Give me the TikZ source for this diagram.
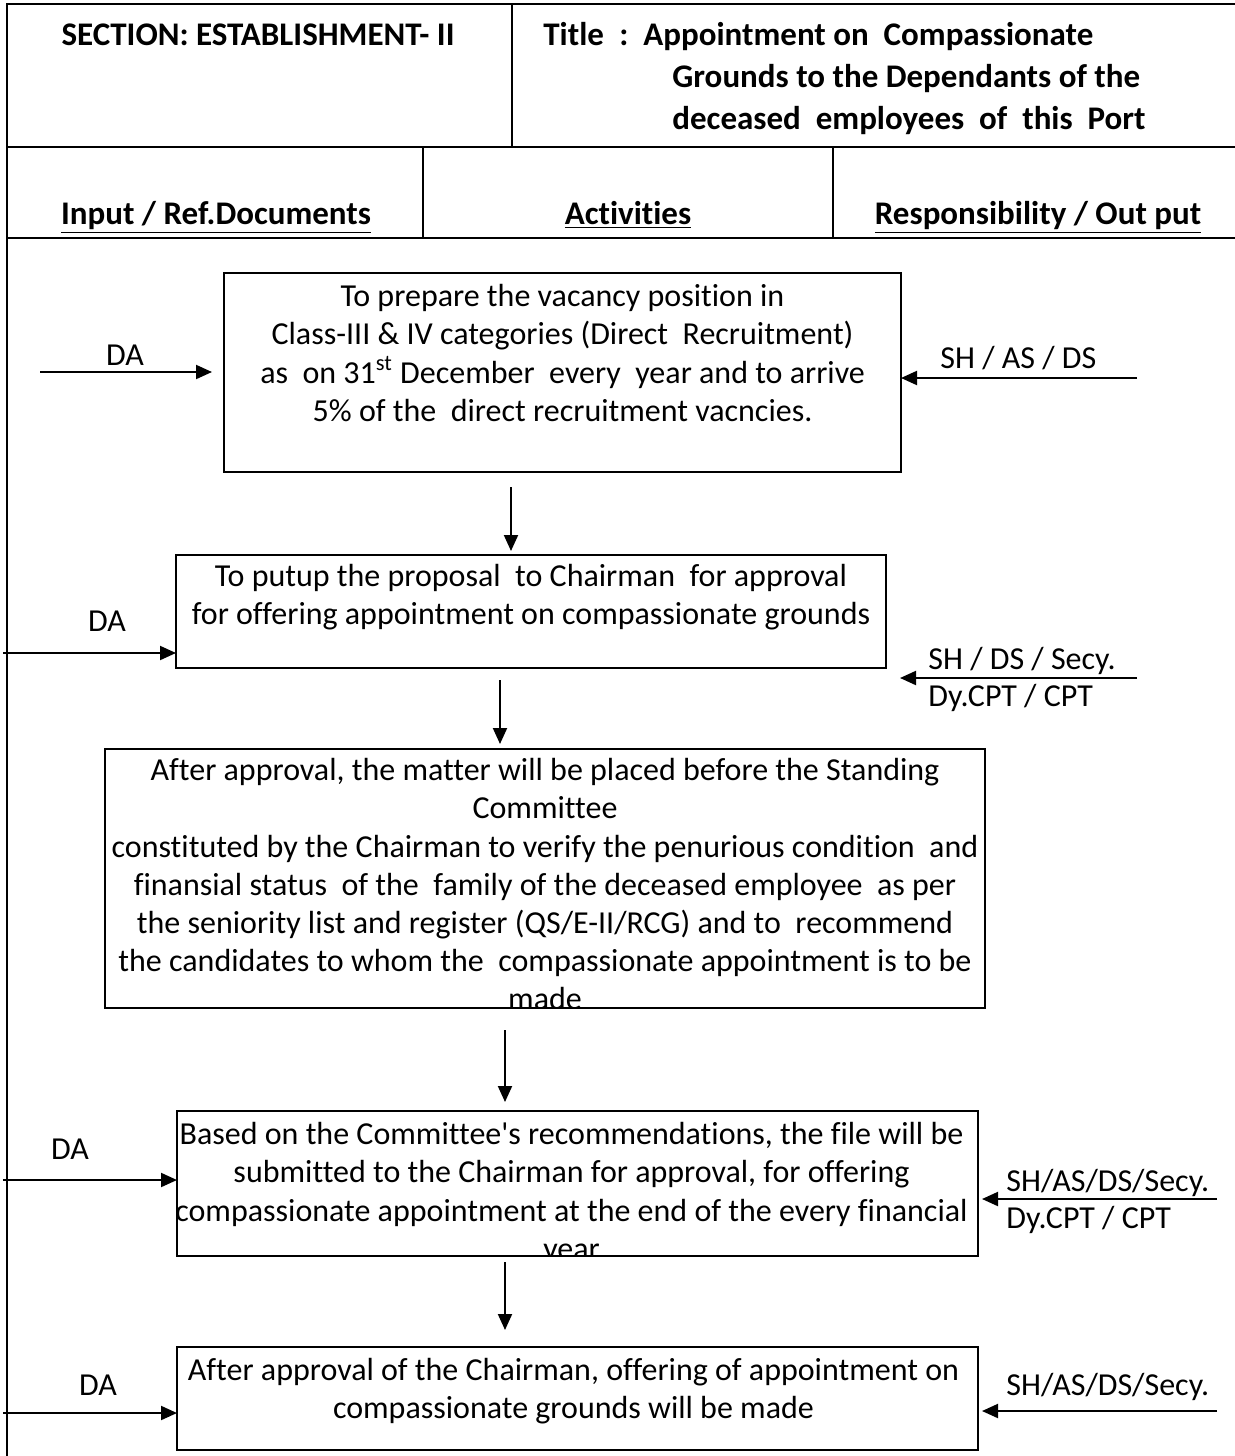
\documentclass[tikz,border=0pt]{standalone}
\usepackage{fontspec}
\setmainfont{Carlito}[Ligatures={NoCommon}]
\usetikzlibrary{arrows.meta,positioning}

\tikzset{
  frame/.style={line width=1.1pt},
  actbox/.style={draw, line width=0.8pt, inner sep=0pt, outer sep=0pt},
  acttext/.style={align=center, inner sep=0pt, anchor=north, font=\fontsize{16}{19.1}\selectfont},
  lbl/.style={inner sep=0pt, font=\fontsize{16}{19}\selectfont},
  hd/.style={inner sep=0pt, font=\bfseries\fontsize{16.5}{20}\selectfont},
  flow/.style={line width=1pt, -{Triangle[length=8pt,width=7pt]}},
}

\begin{document}
\begin{tikzpicture}[x=0.5pt, y=-0.5pt]
\useasboundingbox (0,0) rectangle (1235,1456);

% header frame
\draw[frame] (1235,4) -- (7,4) -- (7,1456);
\draw[frame] (7,147) -- (1235,147);
\draw[frame] (7,238) -- (1235,238);
\draw[frame] (512,4) -- (512,147);
\draw[frame] (423,147) -- (423,238);
\draw[frame] (833,147) -- (833,238);

\node[hd, anchor=base] (sec) at (258,45) {SECTION: ESTABLISHMENT- II};
\node[hd, anchor=base west] (ttl) at (543,45) {Title};
\node[hd, anchor=base west] (colon) at (619,45) {:};
\node[hd, anchor=base west] (t1) at (643,45) {Appointment on~ Compassionate};
\node[hd, anchor=base west] (t2) at (672,87) {Grounds to the Dependants of the};
\node[hd, anchor=base west] (t3) at (672,129) {deceased~ employees~ of~ this~ Port};

\node[hd, anchor=base] (hin) at (216,224) {\underline{Input / Ref.Documents}};
\node[hd, anchor=base] (hact) at (628,224) {\underline{Activities}};
\node[hd, anchor=base] (hres) at (1038,224) {\underline{Responsibility / Out put}};

% activity boxes
\node[actbox, minimum width=338.5pt, minimum height=99.5pt] (box1) at (562.5,372.5) {};
\node[actbox, minimum width=355pt, minimum height=56.5pt] (box2) at (531,611.5) {};
\node[actbox, minimum width=440pt, minimum height=129.5pt] (box3) at (545,878.5) {};
\node[actbox, minimum width=400.5pt, minimum height=72.5pt] (box4) at (577.5,1183.5) {};
\node[actbox, minimum width=400.5pt, minimum height=51.5pt] (box5) at (577.5,1398.5) {};

\node[acttext] (txt1) at ([yshift=-5.5pt]box1.north) {To prepare the vacancy position in\\
  Class-III \& IV categories (Direct~ Recruitment)\\
  as~ on 31\textsuperscript{st} December~ every~ year and to arrive\\
  5\% of the~ direct recruitment vacncies.};
\node[acttext] (txt2) at ([yshift=-4.5pt]box2.north) {To putup the proposal~ to Chairman~ for approval\\
  for offering appointment on compassionate grounds};
\begin{scope}
  \clip (box3.north west) rectangle (box3.south east);
  \node[acttext] (txt3) at ([yshift=-4.5pt]box3.north) {After approval, the matter will be placed before the Standing\\
    Committee\\
    constituted by the Chairman to verify the penurious condition~ and\\
    finansial status~ of the~ family of the deceased employee~ as per\\
    the seniority list and register (QS/E-II/RCG) and to~ recommend\\
    the candidates to whom the~ compassionate appointment is to be\\
    made};
\end{scope}
\begin{scope}
  \clip (box4.north west) rectangle (box4.south east);
  \node[acttext] (txt4) at ([xshift=-3pt,yshift=-5.5pt]box4.north) {Based on the Committee\textquotesingle s recommendations, the file will be\\
    submitted to the Chairman for approval, for offering\\
    compassionate appointment at the end of the every financial\\
    year};
\end{scope}
\node[acttext] (txt5) at ([xshift=-2pt,yshift=-5.5pt]box5.north) {After approval of the Chairman, offering of appointment on\\
  compassionate grounds will be made};

% down arrows
\coordinate (d1) at (511,487);
\coordinate (d2) at (500,680);
\coordinate (d3) at (505,1030);
\coordinate (d4) at (505,1262);
\draw[flow, shorten >=2pt] (d1) -- (d1 |- box2.north);
\draw[flow, shorten >=2.5pt] (d2) -- (d2 |- box3.north);
\draw[flow, shorten >=4.5pt] (d3) -- (d3 |- box4.north);
\draw[flow, shorten >=8.5pt] (d4) -- (d4 |- box5.north);

% inputs
\coordinate (in1) at (40,372);
\coordinate (in2) at (3,653);
\coordinate (in4) at (3,1180);
\coordinate (in5) at (3,1413);
\draw[flow, shorten >=6pt] (in1) -- (in1 -| box1.west);
\draw[flow] (in2) -- (in2 -| box2.west);
\draw[flow] (in4) -- (in4 -| box4.west);
\draw[flow] (in5) -- (in5 -| box5.west);
\node[lbl, anchor=base] (da1) at (125,365) {DA};
\node[lbl, anchor=base] (da2) at (107,631) {DA};
\node[lbl, anchor=base] (da4) at (70,1159) {DA};
\node[lbl, anchor=base] (da5) at (98,1395) {DA};

% responsibility
\coordinate (out1) at (1137,378);
\coordinate (out2) at (1137,678);
\coordinate (out4) at (1217,1199);
\coordinate (out5) at (1217,1411);
\draw[flow] (out1) -- (out1 -| box1.east);
\draw[flow, shorten >=7pt] (out2) -- (out2 -| box2.east);
\draw[flow, shorten >=2pt] (out4) -- (out4 -| box4.east);
\draw[flow, shorten >=2pt] (out5) -- (out5 -| box5.east);
\node[lbl, anchor=base west] (r1) at (940,368) {SH / AS / DS};
\node[lbl, anchor=base west] (r2a) at (928,669) {SH / DS / Secy.};
\node[lbl, anchor=base west] (r2b) at (928,706) {Dy.CPT / CPT};
\node[lbl, anchor=base west] (r4a) at (1006,1191) {SH/AS/DS/Secy.};
\node[lbl, anchor=base west] (r4b) at (1006,1228) {Dy.CPT / CPT};
\node[lbl, anchor=base west] (r5) at (1006,1395) {SH/AS/DS/Secy.};
\end{tikzpicture}
\end{document}
